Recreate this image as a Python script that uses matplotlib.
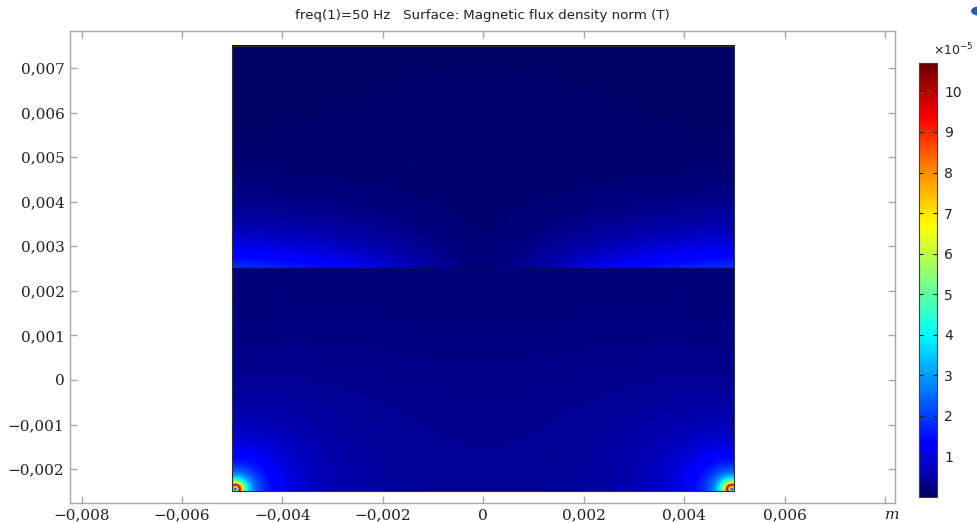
import numpy as np
import matplotlib
matplotlib.use("Agg")
import matplotlib.pyplot as plt
from matplotlib.ticker import FixedLocator, FuncFormatter
from matplotlib.colors import LinearSegmentedColormap
from matplotlib.patches import Circle

# ---- data / model parameters ----
title = "freq(1)=50 Hz   Surface: Magnetic flux density norm (T)"
domain_x = [-0.005, 0.005]          # m
domain_y = [-0.0025, 0.0075]        # m
interface_y = 0.0025                # m, boundary between lower and upper region
wire_x = [-0.00494, 0.00494]        # conductor centres (bottom corners)
wire_y = [-0.00246, -0.00246]
wire_sign = [1, -1]                 # opposite currents
wire_radius = 0.00009               # m
B_peak = 10.7e-5                    # T, colour range maximum
mu_upper = 12.0                     # tangential amplification in upper region
decay_upper = 0.0011                # m
x_ticks = [-0.008, -0.006, -0.004, -0.002, 0, 0.002, 0.004, 0.006, 0.008]
x_labelled = [-0.008, -0.006, -0.004, -0.002, 0, 0.002, 0.004, 0.006]
y_ticks = [-0.002, -0.001, 0, 0.001, 0.002, 0.003, 0.004, 0.005, 0.006, 0.007]
cbar_ticks = [1, 2, 3, 4, 5, 6, 7, 8, 9, 10]
cbar_range = [0, 10.7]

# ---- field evaluation ----
nx, ny = 1006, 892
xs = np.linspace(domain_x[0], domain_x[1], nx)
ys = np.linspace(domain_y[0], domain_y[1], ny)
X, Y = np.meshgrid(xs, ys)
k = B_peak * wire_radius
Bx = np.zeros_like(X)
By = np.zeros_like(X)
for wx, wy, s in zip(wire_x, wire_y, wire_sign):
    dx = X - wx
    dy = Y - wy
    r2 = dx**2 + dy**2
    f = np.where(r2 > wire_radius**2, k / np.maximum(r2, 1e-30), k / wire_radius**2)
    Bx += s * f * (-dy)
    By += s * f * dx
B = np.sqrt(Bx**2 + By**2)
upper = Y > interface_y
dec = np.exp(-(Y - interface_y) / decay_upper)
Bup = np.sqrt((mu_upper * Bx * dec)**2 + By**2)
B = np.where(upper, Bup, B)
B = B / 1e-5

# COMSOL-like rainbow (jet with a darker navy start)
rainbow = LinearSegmentedColormap.from_list("rainbow_comsol", [
    (0.00, (0.00, 0.00, 0.38)),
    (0.11, (0.00, 0.00, 1.00)),
    (0.125, (0.00, 0.00, 1.00)),
    (0.34, (0.00, 0.85, 1.00)),
    (0.375, (0.00, 1.00, 1.00)),
    (0.50, (0.50, 1.00, 0.50)),
    (0.625, (1.00, 1.00, 0.00)),
    (0.75, (1.00, 0.55, 0.00)),
    (0.875, (1.00, 0.00, 0.00)),
    (1.00, (0.42, 0.00, 0.00)),
])

# ---- figure ----
fig = plt.figure(figsize=(9.77, 5.23), dpi=100)
ax = fig.add_axes([70/977, 1-503/523, 825/977, 472/523])
im = ax.imshow(B, extent=[domain_x[0], domain_x[1], domain_y[0], domain_y[1]],
               origin="lower", aspect="auto", cmap=rainbow,
               vmin=cbar_range[0], vmax=cbar_range[1], interpolation="bilinear")
edge = "#303030"
ax.plot([domain_x[0], domain_x[1], domain_x[1], domain_x[0], domain_x[0]],
        [domain_y[0], domain_y[0], domain_y[1], domain_y[1], domain_y[0]],
        color=edge, lw=0.8)
ax.plot(domain_x, [interface_y, interface_y], color="#101030", lw=0.8)

ax.set_xlim(-0.00823, 0.00820)
ax.set_ylim(-0.00276, 0.00783)
for sp in ax.spines.values():
    sp.set_color("#a8a8a8")
    sp.set_linewidth(1.0)

def fmt_val(v):
    if abs(v) < 1e-12:
        return "0"
    return f"{v:.3f}".replace(".", ",").replace("-", "\u2212")

def fmt_x(v, pos):
    return fmt_val(v) if any(abs(v - t) < 1e-9 for t in x_labelled) else ""

def fmt_y(v, pos):
    return fmt_val(v)

ax.xaxis.set_major_locator(FixedLocator(x_ticks))
ax.yaxis.set_major_locator(FixedLocator(y_ticks))
ax.xaxis.set_major_formatter(FuncFormatter(fmt_x))
ax.yaxis.set_major_formatter(FuncFormatter(fmt_y))
ax.tick_params(direction="in", length=5, width=1, color="#a8a8a8",
               top=True, right=True, labelsize=11, labelcolor="#222222", pad=4)
for lab in ax.get_xticklabels() + ax.get_yticklabels():
    lab.set_family("DejaVu Serif")

fig.text(482/977, 1-15/523, title, ha="center", va="center",
         fontsize=9.6, color="#222222", family="DejaVu Sans")
fig.text(892/977, 1-515/523, "m", ha="center", va="center", fontsize=11,
         style="italic", family="DejaVu Serif", color="#222222")

cax = fig.add_axes([919/977, 1-497/523, 18/977, 434/523])
cb = fig.colorbar(im, cax=cax, ticks=cbar_ticks)
cb.outline.set_edgecolor("#404040")
cb.outline.set_linewidth(0.8)
cax.tick_params(direction="in", length=3, width=0.8, color="#202020",
                left=True, right=True, labelsize=10, labelcolor="#222222", pad=5)
cb.set_ticklabels([str(t) for t in cbar_ticks])
fig.text(974/977, 1-50/523, r"$\times\mathregular{10^{-5}}$", ha="right",
         va="center", fontsize=9, color="#222222")

# partially visible logo circle in the top-right corner
fig.patches.append(Circle((980/977, 1-11/523), 9/977, transform=fig.transFigure,
                          facecolor="#2a5db0", edgecolor="none"))

fig.savefig("out.png", dpi=100)
